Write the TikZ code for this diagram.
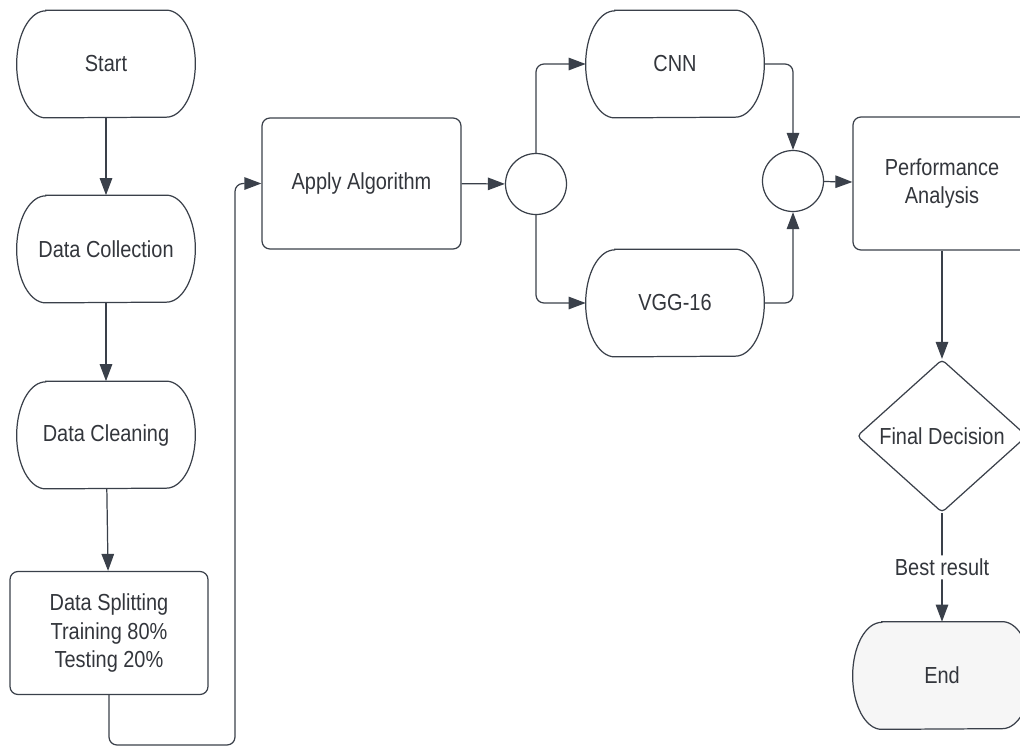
\documentclass[tikz,border=0pt]{standalone}
\usepackage{fontspec}
\setmainfont{Liberation Sans}[FakeStretch=0.86]
\usetikzlibrary{calc}
\usetikzlibrary{shapes.geometric}
\usetikzlibrary{arrows.meta}
\usetikzlibrary{backgrounds}

\definecolor{linegray}{RGB}{58,64,74}
\definecolor{textgray}{RGB}{51,54,60}
\definecolor{endfill}{RGB}{246,246,246}

\tikzset{
  box/.style={draw=linegray,line width=0.7pt},
  txt/.style={text=textgray,font=\fontsize{13.2}{16.4}\selectfont,align=center},
  term/.style={txt,minimum width=3.56cm,minimum height=2.14cm},
  proc/.style={box,txt,rounded corners=0.16cm},
  junction/.style={box,circle,minimum size=1.22cm,inner sep=0pt},
  decide/.style={box,txt,diamond,minimum width=3.4cm,minimum height=3.06cm,inner sep=0pt,rounded corners=0.08cm},
  arr/.style={draw=linegray,line width=0.7pt,rounded corners=0.16cm,-{Triangle[length=0.34cm,width=0.25cm]}}
}

% outline of a terminator node (elliptic ends)
\newcommand{\termline}[2][]{%
  \draw[box,#1] ($(#2.north west)+(0.58,0)$) -- ($(#2.north east)+(-0.58,0)$)
    arc[start angle=90,end angle=-90,x radius=0.58,y radius=1.07]
    -- ($(#2.south west)+(0.58,0)$)
    arc[start angle=270,end angle=90,x radius=0.58,y radius=1.07] -- cycle;}

\begin{document}
\begin{tikzpicture}

\clip (0,0) rectangle (20.4,-14.94);

% left column
\node[term] (start) at (2.12,-1.28) {Start};
\node[term] (collect) at (2.12,-4.98) {Data Collection};
\node[term] (clean) at (2.12,-8.70) {Data Cleaning};
\node[proc,minimum width=3.96cm,minimum height=2.46cm] (split) at (2.18,-12.66)
  {Data Splitting\\Training 80\%\\Testing 20\%};

% middle
\node[proc,minimum width=3.98cm,minimum height=2.62cm] (algo) at (7.23,-3.67) {Apply Algorithm};
\node[junction] (fork) at (10.72,-3.68) {};
\node[term] (cnn) at (13.5,-1.28) {CNN};
\node[term] (vgg) at (13.5,-6.06) {VGG-16};
\node[junction] (merge) at (15.86,-3.62) {};

% right column
\node[proc,minimum width=3.56cm,minimum height=2.66cm] (perf) at (18.84,-3.67) {Performance\\Analysis};
\node[decide] (dec) at (18.84,-8.72) {Final Decision};
\node[term] (end) at (18.84,-13.51) {End};

\begin{pgfonlayer}{background}
\foreach \n in {start,collect,clean,cnn,vgg} \termline{\n};
\termline[fill=endfill]{end}
\end{pgfonlayer}

\coordinate (low) at (4.7,-14.9);

\draw[arr] (start) -- (collect);
\draw[arr] (collect) -- (clean);
\draw[arr] (clean) -- (split);
\draw[arr] (split.south) |- (low) |- (algo.west);
\draw[arr] (algo) -- (fork);
\draw[arr] (fork.north) |- (cnn.west);
\draw[arr] (fork.south) |- (vgg.west);
\draw[arr] (cnn.east) -| (merge.north);
\draw[arr] (vgg.east) -| (merge.south);
\draw[arr] (merge) -- (perf);
\draw[arr] (perf) -- (dec);
\draw[arr] (dec) -- node[txt,fill=white,inner sep=2pt] (best) {Best result} (end);

\end{tikzpicture}
\end{document}
